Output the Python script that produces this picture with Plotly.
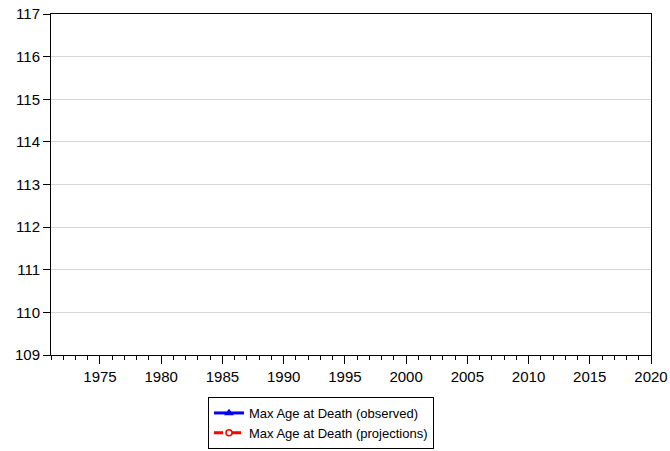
import plotly.graph_objects as go

# No data points are visible in the reference: the series carry no plotted values
years_observed = [None]
max_age_observed = [None]
years_projection = [None]
max_age_projection = [None]

series_names = ["Max Age at Death (observed)", "Max Age at Death (projections)"]

fig = go.Figure()
fig.add_trace(go.Scatter(
    x=years_observed, y=max_age_observed, name=series_names[0], mode="lines+markers",
    line=dict(color="#0000ff", width=3),
    marker=dict(symbol="triangle-up-open", size=6, color="#0000ff", line=dict(width=1.5)),
    showlegend=True,
))
fig.add_trace(go.Scatter(
    x=years_projection, y=max_age_projection, name=series_names[1], mode="lines+markers",
    line=dict(color="#ff0000", width=3, dash="dash"),
    marker=dict(symbol="circle-open", size=6, color="#ff0000", line=dict(width=1.5)),
    showlegend=True,
))

font = dict(family="Liberation Sans, Arial, sans-serif", size=15, color="#000000")

fig.update_layout(
    width=670, height=451,
    margin=dict(l=51, r=19, t=14, b=96, autoexpand=False),
    paper_bgcolor="white", plot_bgcolor="white",
    font=font,
    xaxis=dict(
        range=[1971, 2020], tick0=1975, dtick=5,
        ticks="outside", ticklen=8, tickwidth=1, tickcolor="black",
        showline=True, linecolor="black", linewidth=1, mirror=True,
        showgrid=False, zeroline=False, automargin=False,
        ticklabeloverflow="allow",
        minor=dict(dtick=1, tick0=1971, ticks="outside", ticklen=4, tickwidth=1, tickcolor="black", showgrid=False),
        tickfont=dict(size=15),
    ),
    yaxis=dict(
        range=[109, 117], dtick=1,
        ticks="outside", ticklen=7, tickwidth=1, tickcolor="black",
        showline=True, linecolor="black", linewidth=1, mirror=True,
        showgrid=True, gridcolor="#d6d6d6", gridwidth=1, zeroline=False,
        automargin=False, ticklabeloverflow="allow",
        tickfont=dict(size=15),
    ),
    legend=dict(
        x=(208 - 51) / 600, y=-(397 - 355) / 341, xanchor="left", yanchor="top",
        bordercolor="black", borderwidth=1, bgcolor="white",
        font=dict(size=13), tracegroupgap=0, itemwidth=30,
    ),
)

fig.write_html(
    "out.html",
    config={"displayModeBar": False},
    post_script="document.body.style.margin='0';",
)
